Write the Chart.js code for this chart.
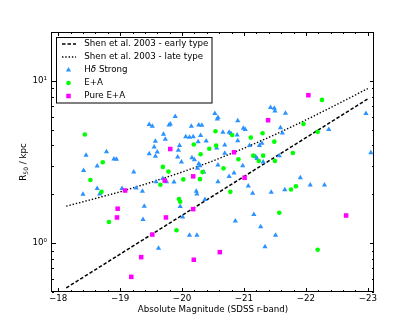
<!DOCTYPE html>
<html>
<head>
<meta charset="utf-8">
<script src="https://cdn.jsdelivr.net/npm/chart.js@4.4.0/dist/chart.umd.min.js"></script>
<style>
  html, body { margin: 0; padding: 0; background: #fff; }
  canvas { display: block; }
</style>
</head>
<body>
<canvas id="chart" width="415" height="325"></canvas>
<script>
// axis ticks
const xTicks = [-18, -19, -20, -21, -22, -23];
const xTickLabels = ['\u221218', '\u221219', '\u221220', '\u221221', '\u221222', '\u221223'];
const yTicks = [1, 10];
const yTickLabels = ['10\u2070', '10\u00b9'];

const seriesNames = ['Shen et al. 2003 - early type', 'Shen et al. 2003 - late type', 'H\u03b4 Strong', 'E+A', 'Pure E+A'];

// Shen et al. 2003 size-luminosity relations
const earlyMag = [-18.13, -23.0];
const earlyR = [0.53, 7.74];
const lateMag = [-18.13, -18.5, -19, -19.5, -20, -20.5, -21, -21.5, -22, -22.5, -23];
const lateR = [1.69, 1.84, 2.07, 2.37, 2.74, 3.21, 3.84, 4.66, 5.74, 7.15, 8.97];

// H-delta strong galaxies
const hdMag = [-18.40, -18.41, -18.45, -18.63, -18.63, -18.67, -18.78, -18.90, -18.94, -19.03,
  -19.22, -19.26, -19.36, -19.39, -19.37, -19.47, -19.52, -19.47, -19.57, -19.55,
  -19.60, -19.57, -19.62, -19.70, -19.73, -19.58, -19.69, -19.75, -19.79, -19.81,
  -19.89, -19.94, -19.96, -19.93, -19.99, -19.87, -19.97, -20.01, -20.06, -20.12,
  -20.15, -20.18, -20.16, -20.20, -20.26, -20.27, -20.32, -20.30, -20.27, -20.29,
  -20.25, -20.35, -20.23, -20.24, -20.37, -20.12, -20.24, -20.39, -20.53, -20.57,
  -20.58, -20.56, -20.58, -20.58, -20.66, -20.69, -20.69, -20.76, -20.79, -20.76,
  -20.84, -20.86, -20.89, -20.90, -20.90, -20.99, -21.02, -20.98, -21.07, -21.09,
  -21.14, -21.16, -21.19, -21.21, -21.25, -21.27, -21.29, -21.31, -21.34, -21.43,
  -21.49, -21.50, -21.44, -21.51, -21.57, -21.59, -21.62, -21.67, -21.66, -21.91,
  -22.07, -22.30, -22.37, -22.97, -23.05];
const hdR = [2.00, 2.80, 3.48, 2.99, 2.17, 2.01, 3.66, 3.30, 3.29, 2.17,
  2.74, 2.19, 2.09, 1.69, 1.40, 5.38, 5.25, 3.56, 4.24, 3.91,
  3.65, 3.43, 0.93, 4.69, 4.37, 2.39, 2.50, 2.39, 5.35, 5.43,
  6.03, 3.73, 3.99, 3.40, 3.16, 2.38, 1.68, 1.45, 4.53, 4.49,
  5.25, 4.53, 3.36, 3.27, 4.22, 5.35, 5.33, 4.60, 3.09, 3.00,
  2.89, 2.74, 2.09, 2.01, 1.86, 1.12, 1.12, 4.26, 6.29, 5.83,
  5.94, 3.86, 3.03, 2.39, 4.82, 4.03, 3.58, 4.82, 4.73, 2.57,
  2.71, 1.37, 4.64, 4.28, 5.67, 5.10, 5.01, 3.00, 2.25, 3.99,
  2.03, 1.50, 3.41, 3.32, 3.99, 1.26, 4.12, 3.16, 0.95, 6.85,
  6.78, 6.53, 2.06, 1.12, 3.46, 5.15, 4.78, 6.32, 2.13, 2.53,
  2.28, 2.28, 5.01, 6.29, 3.61];

// E+A galaxies
const eaMag = [-18.43, -18.52, -18.72, -18.70, -18.82, -19.65, -19.69, -19.78, -20.02, -19.95,
  -19.97, -19.91, -20.19, -20.29, -20.30, -20.33, -20.44, -20.54, -20.55, -20.67,
  -20.81, -20.78, -20.91, -21.11, -21.15, -21.24, -21.30, -21.31, -21.49, -21.50,
  -21.57, -21.76, -21.79, -21.84, -21.96, -22.19, -22.19, -22.26];
const eaR = [4.67, 2.45, 3.15, 2.07, 1.35, 2.29, 2.95, 2.76, 2.47, 1.87,
  1.80, 1.20, 4.05, 2.48, 3.53, 2.74, 3.82, 4.89, 3.99, 2.89,
  4.64, 2.07, 3.29, 4.47, 3.46, 3.21, 4.75, 3.46, 4.22, 3.21,
  1.54, 2.14, 3.59, 2.24, 5.43, 4.85, 0.91, 7.63];

// pure E+A galaxies
const pureMag = [-19.08, -18.96, -18.95, -19.18, -19.34, -19.52, -19.72, -19.74, -19.81, -20.18,
  -20.18, -20.19, -20.61, -20.84, -21.01, -21.39, -22.04, -22.65];
const pureR = [2.11, 1.63, 1.44, 0.62, 0.82, 1.13, 2.43, 1.44, 3.80, 2.58,
  1.62, 0.79, 0.88, 3.63, 2.53, 5.72, 8.16, 1.48];

const FONT = 'DejaVu Sans';
const X_MIN = -23.1, X_MAX = -17.9, Y_MIN = 0.5, Y_MAX = 20;

function toPoints(xs, ys) {
    return xs.map((x, i) => ({ x: x, y: ys[i] }));
}

function drawMarker(ctx, style, x, y, r, color) {
    ctx.fillStyle = color;
    ctx.beginPath();
    if (style === 'triangle') {
        ctx.moveTo(x, y - r);
        ctx.lineTo(x + r * 0.866, y + r * 0.5);
        ctx.lineTo(x - r * 0.866, y + r * 0.5);
        ctx.closePath();
    } else if (style === 'rect') {
        const s = r * Math.SQRT1_2;
        ctx.rect(x - s, y - s, 2 * s, 2 * s);
    } else {
        ctx.arc(x, y, r, 0, Math.PI * 2);
    }
    ctx.fill();
}

// frame, inward ticks, axis titles and legend, matplotlib style
const decorPlugin = {
    id: 'decor',
    afterDraw(chart) {
        const ctx = chart.ctx;
        const xs = chart.scales.x;
        const ys = chart.scales.y;
        const L = Math.round(xs.getPixelForValue(X_MAX));
        const R = Math.round(xs.getPixelForValue(X_MIN));
        const T = Math.round(ys.getPixelForValue(Y_MAX));
        const B = Math.round(ys.getPixelForValue(Y_MIN));
        ctx.save();
        ctx.strokeStyle = '#000';
        ctx.lineWidth = 1;

        ctx.beginPath();
        const xTick = (v, len) => {
            const px = Math.round(xs.getPixelForValue(v)) + 0.5;
            ctx.moveTo(px, B); ctx.lineTo(px, B - len);
            ctx.moveTo(px, T); ctx.lineTo(px, T + len);
        };
        const yTick = (v, len) => {
            const py = Math.round(ys.getPixelForValue(v)) + 0.5;
            ctx.moveTo(L, py); ctx.lineTo(L + len, py);
            ctx.moveTo(R, py); ctx.lineTo(R - len, py);
        };
        xTicks.forEach(v => xTick(v, 4));
        for (let k = 0; k < 25; k++) {
            const v = -18 - 0.2 * k;
            if (k % 5 !== 0) xTick(v, 2);
        }
        yTicks.forEach(v => yTick(v, 4));
        [0.5, 0.6, 0.7, 0.8, 0.9, 2, 3, 4, 5, 6, 7, 8, 9].forEach(v => yTick(v, 2));
        ctx.stroke();

        ctx.strokeRect(L - 0.5, T + 0.5, R - L, B - T - 1);

        // axis titles
        ctx.fillStyle = '#000';
        const big = '8.7px "' + FONT + '"';
        const small = '6px "' + FONT + '"';
        ctx.font = big;
        ctx.textAlign = 'center';
        ctx.textBaseline = 'middle';
        ctx.fillText('Absolute Magnitude (SDSS r-band)', (L + R) / 2, 310);

        ctx.save();
        ctx.translate(24, 162);
        ctx.rotate(-Math.PI / 2);
        ctx.textAlign = 'left';
        ctx.font = big;
        const wR = ctx.measureText('R').width;
        const wRest = ctx.measureText(' / kpc').width;
        ctx.font = small;
        const wSub = ctx.measureText('50').width;
        let cx = -(wR + wSub + wRest) / 2;
        ctx.font = big;
        ctx.fillText('R', cx, 0);
        cx += wR;
        ctx.font = small;
        ctx.fillText('50', cx, 2.5);
        cx += wSub;
        ctx.font = big;
        ctx.fillText(' / kpc', cx, 0);
        ctx.restore();

        // legend
        const lx = 56, ly = 37.5, lw = 155.5, lh = 65.5;
        ctx.fillStyle = '#fff';
        ctx.fillRect(lx, ly, lw, lh);
        ctx.strokeStyle = '#000';
        ctx.lineWidth = 1;
        ctx.strokeRect(lx + 0.5, ly, lw, lh);

        const rows = [44, 57, 70, 83, 96];
        chart.data.datasets.forEach((ds, i) => {
            const yy = rows[i];
            if (ds.type === 'line') {
                ctx.save();
                ctx.strokeStyle = ds.borderColor;
                ctx.lineWidth = ds.borderWidth;
                ctx.setLineDash(ds.borderDash);
                ctx.beginPath();
                ctx.moveTo(62, yy);
                ctx.lineTo(76, yy);
                ctx.stroke();
                ctx.restore();
            } else {
                drawMarker(ctx, ds.pointStyle, 68.5, yy, ds.pointRadius, ds.backgroundColor);
            }
            ctx.fillStyle = '#000';
            ctx.textAlign = 'left';
            ctx.textBaseline = 'middle';
            if (ds.label.indexOf('\u03b4') >= 0) {
                ctx.font = big;
                ctx.fillText('H', 84.3, yy);
                let px = 84.3 + ctx.measureText('H').width;
                ctx.font = 'italic 8.7px "' + FONT + '"';
                ctx.fillText('\u03b4', px, yy);
                px += ctx.measureText('\u03b4').width;
                ctx.font = big;
                ctx.fillText(' Strong', px, yy);
            } else {
                ctx.font = big;
                ctx.fillText(ds.label, 84.3, yy);
            }
        });
        ctx.restore();
    }
};

const chart = new Chart(document.getElementById('chart'), {
    type: 'scatter',
    data: {
        datasets: [
            {
                label: seriesNames[0],
                type: 'line',
                data: toPoints(earlyMag, earlyR),
                borderColor: '#000',
                borderWidth: 1.5,
                borderDash: [3.5, 2],
                pointRadius: 0,
                fill: false,
                tension: 0,
                order: 5
            },
            {
                label: seriesNames[1],
                type: 'line',
                data: toPoints(lateMag, lateR),
                borderColor: '#000',
                borderWidth: 1.4,
                borderDash: [1.4, 1.9],
                pointRadius: 0,
                fill: false,
                tension: 0,
                order: 4
            },
            {
                label: seriesNames[2],
                data: toPoints(hdMag, hdR),
                pointStyle: 'triangle',
                pointRadius: 3,
                backgroundColor: '#2b93ff',
                borderWidth: 0,
                order: 3
            },
            {
                label: seriesNames[3],
                data: toPoints(eaMag, eaR),
                pointStyle: 'circle',
                pointRadius: 2.3,
                backgroundColor: '#00ff00',
                borderWidth: 0,
                order: 2
            },
            {
                label: seriesNames[4],
                data: toPoints(pureMag, pureR),
                pointStyle: 'rect',
                pointRadius: 3.2,
                backgroundColor: '#ff00ff',
                borderWidth: 0,
                order: 1
            }
        ]
    },
    options: {
        responsive: false,
        animation: false,
        devicePixelRatio: 1,
        layout: { padding: { top: 32, right: 41, left: 0, bottom: 0 } },
        plugins: {
            legend: { display: false },
            tooltip: { enabled: false }
        },
        scales: {
            x: {
                type: 'linear',
                reverse: true,
                min: X_MIN,
                max: X_MAX,
                grid: { display: false, drawTicks: false },
                border: { display: false },
                afterBuildTicks: function(scale) {
                    scale.ticks = xTicks.map(v => ({ value: v }));
                },
                afterFit: function(scale) { scale.height = 33; },
                ticks: {
                    padding: 2,
                    color: '#000',
                    font: { family: FONT, size: 8.7 },
                    maxRotation: 0,
                    callback: function(value) {
                        const i = xTicks.indexOf(value);
                        return i >= 0 ? xTickLabels[i] : '';
                    }
                }
            },
            y: {
                type: 'logarithmic',
                min: Y_MIN,
                max: Y_MAX,
                grid: { display: false, drawTicks: false },
                border: { display: false },
                afterBuildTicks: function(scale) {
                    scale.ticks = yTicks.map(v => ({ value: v }));
                },
                afterFit: function(scale) { scale.width = 52; },
                ticks: {
                    padding: 5,
                    color: '#000',
                    font: { family: FONT, size: 8.7 },
                    callback: function(value) {
                        const i = yTicks.indexOf(value);
                        return i >= 0 ? yTickLabels[i] : '';
                    }
                }
            }
        }
    },
    plugins: [decorPlugin]
});
</script>
</body>
</html>
